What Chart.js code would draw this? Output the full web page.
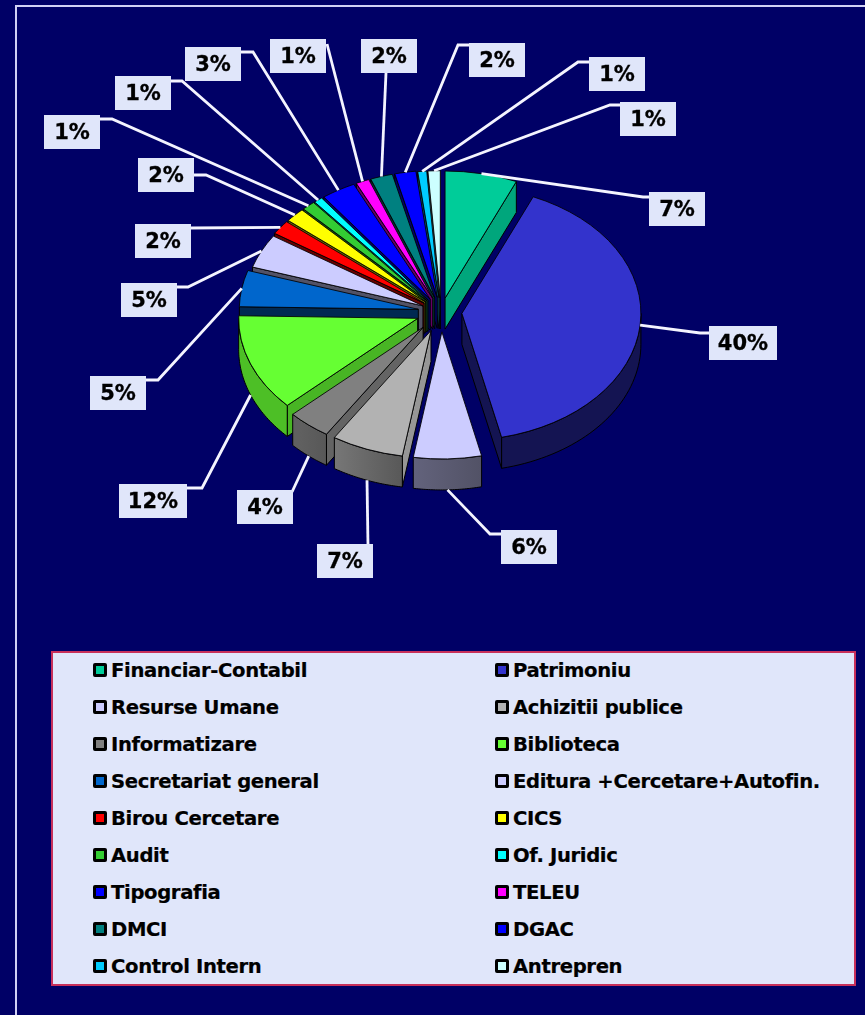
<!DOCTYPE html>
<html>
<head>
<meta charset="utf-8">
<title>Structura</title>
<script src="https://cdn.jsdelivr.net/npm/chart.js@4/dist/chart.umd.js"></script>
<style>
  html, body { margin: 0; padding: 0; background: #000066; overflow: hidden; }
  body { width: 865px; height: 1015px; position: relative; font-family: "DejaVu Sans", sans-serif; }
  #frame { position: absolute; left: 15px; top: 5px; width: 860px; height: 1020px;
    border-left: 2px solid #d0d0f4; border-top: 2px solid #d0d0f4; }
  #chartPie { position: absolute; left: 0; top: 0; }
  #legendBox { position: absolute; left: 51px; top: 651px; width: 801px; height: 331px;
    background: #e0e6fa; border: 2px solid #c8305a; box-sizing: content-box; }
  .legend-item { position: absolute; height: 37px; line-height: 37px; font-size: 19.6px; font-weight: bold;
    color: #000; white-space: nowrap; letter-spacing: -0.35px; -webkit-text-stroke: 0.2px #000; }
  .legend-swatch { position: absolute; left: 0; top: 11px; width: 8px; height: 8px;
    border: 3px solid #000; border-radius: 2px; }
  .legend-text { position: absolute; left: 18px; top: 0; }
</style>
</head>
<body>
<div id="frame"></div>
<canvas id="chartPie" width="865" height="1015"></canvas>
<div id="legendBox"></div>
<script>
const categories = [
  "Financiar-Contabil", "Patrimoniu", "Resurse Umane", "Achizitii publice",
  "Informatizare", "Biblioteca", "Secretariat general", "Editura +Cercetare+Autofin.",
  "Birou Cercetare", "CICS", "Audit", "Of. Juridic",
  "Tipografia", "TELEU", "DMCI", "DGAC", "Control Intern", "Antrepren",
];
const values = [6.5, 39.8, 6.1, 6.5, 3.9, 12.3, 4.6, 4.3, 1.8, 1.8, 1.2, 0.8, 3.1, 1.2, 2.0, 1.9, 0.8, 1.1];
const percentLabels = ["7%", "40%", "6%", "7%", "4%", "12%", "5%", "5%", "2%", "2%", "1%", "1%", "3%", "1%", "2%", "2%", "1%", "1%"];
const sliceColors = [
  "#00cc99", "#3333cc", "#ccccff", "#b2b2b2", "#808080", "#66ff33", "#0066cc", "#ccccff", "#ff0000",
  "#ffff00", "#33cc33", "#00ffff", "#0000ff", "#ff00ff", "#008080", "#0000ff", "#00ccff", "#ccffff",
];
// how far each slice is pulled out of the pie, px before the tilt
const explode = [20, 21, 28, 28, 28, 25, 23, 20, 21, 21, 21, 21, 21, 21, 21, 21, 20, 20];

// [x, y, width, height] of each percent box
const labelBoxes = [
  [649, 192, 56, 34], [709, 326, 68, 34], [501, 530, 56, 34], [317, 544, 56, 34], [237, 490, 56, 34],
  [119, 484, 68, 34], [90, 376, 56, 34], [121, 283, 56, 34], [135, 224, 56, 34], [138, 158, 56, 34],
  [44, 115, 56, 34], [115, 76, 56, 34], [185, 47, 56, 34], [270, 39, 56, 34], [361, 39, 56, 34],
  [469, 43, 56, 34], [589, 57, 56, 34], [620, 102, 56, 34],
];
// leader line points after the rim, up to the box
const leaderPoints = [
  [[643, 197], [652, 197]], [[700, 333], [712, 333]], [[490, 534], [504, 534]], [[368, 546]], [[292, 492]],
  [[202, 488], [187, 488]], [[158, 380], [146, 380]], [[188, 287], [177, 287]], [[191, 228]], [[206, 175], [194, 175]],
  [[112, 119], [100, 119]], [[182, 81], [171, 81]], [[253, 52], [241, 52]], [[327, 44]], [[386, 73]],
  [[458, 45], [469, 45]], [[578, 62], [589, 62]], [[610, 105], [620, 105]],
];

const pieRadius = 179;
const tilt = 0.71;
const pieDepth = 31;
const pieCenterY = 312;
const shadeLeft = 240;
const shadeRight = 642;

function shadeColor(hex, factor) {
  var r = parseInt(hex.substr(1, 2), 16);
  var g = parseInt(hex.substr(3, 2), 16);
  var b = parseInt(hex.substr(5, 2), 16);
  return "rgb(" + Math.round(r * factor) + "," + Math.round(g * factor) + "," + Math.round(b * factor) + ")";
}

function sliceInfo(chart, index) {
  const arc = chart.getDatasetMeta(0).data[index];
  const props = arc.getProps(["x", "y", "startAngle", "endAngle", "outerRadius"]);
  const mid = (props.startAngle + props.endAngle) / 2;
  return {
    tipX: props.x + Math.cos(mid) * explode[index],
    tipY: pieCenterY + Math.sin(mid) * explode[index] * tilt,
    radius: props.outerRadius,
    start: props.startAngle,
    end: props.endAngle,
    mid: mid,
  };
}

function rimPoint(info, angle) {
  return [info.tipX + Math.cos(angle) * info.radius, info.tipY + Math.sin(angle) * info.radius * tilt];
}

function drawCutFace(ctx, info, angle, color, outwardX) {
  const rim = rimPoint(info, angle);
  ctx.beginPath();
  ctx.moveTo(info.tipX, info.tipY);
  ctx.lineTo(rim[0], rim[1]);
  ctx.lineTo(rim[0], rim[1] + pieDepth);
  ctx.lineTo(info.tipX, info.tipY + pieDepth);
  ctx.closePath();
  ctx.fillStyle = shadeColor(color, 0.4 + 0.45 * Math.max(outwardX, 0));
  ctx.fill();
  ctx.stroke();
}

function drawOuterWall(ctx, info, color) {
  const from = Math.max(info.start, 0);
  const to = Math.min(info.end, Math.PI);
  if (from >= to) return;
  const gradient = ctx.createLinearGradient(shadeLeft, 0, shadeRight, 0);
  gradient.addColorStop(0, shadeColor(color, 0.75));
  gradient.addColorStop(0.15, shadeColor(color, 0.75));
  gradient.addColorStop(0.4, shadeColor(color, 0.5));
  gradient.addColorStop(0.6, shadeColor(color, 0.4));
  gradient.addColorStop(1, shadeColor(color, 0.4));
  ctx.beginPath();
  var i, p;
  for (i = 0; i <= 40; i++) {
    p = rimPoint(info, from + ((to - from) * i) / 40);
    if (i === 0) ctx.moveTo(p[0], p[1]);
    else ctx.lineTo(p[0], p[1]);
  }
  for (i = 40; i >= 0; i--) {
    p = rimPoint(info, from + ((to - from) * i) / 40);
    ctx.lineTo(p[0], p[1] + pieDepth);
  }
  ctx.closePath();
  ctx.fillStyle = gradient;
  ctx.fill();
  ctx.stroke();
}

const pie3d = {
  id: "pie3d",
  afterDatasetsUpdate: function (chart) {
    // the arc's own offset option also changes its radius, so pull each slice here instead
    chart.getDatasetMeta(0).data.forEach(function (arc, i) {
      const libraryDraw = arc.constructor.prototype.draw;
      arc.draw = function (ctx) {
        const mid = (arc.startAngle + arc.endAngle) / 2;
        ctx.save();
        ctx.translate(Math.cos(mid) * explode[i], Math.sin(mid) * explode[i]);
        libraryDraw.call(arc, ctx);
        ctx.restore();
      };
    });
  },
  beforeDatasetsDraw: function (chart) {
    const ctx = chart.ctx;
    const area = chart.chartArea;
    const order = categories.map(function (c, i) { return i; });
    order.sort(function (a, b) {
      return Math.sin(sliceInfo(chart, a).mid) - Math.sin(sliceInfo(chart, b).mid);
    });
    ctx.save();
    ctx.strokeStyle = "#000";
    ctx.lineWidth = 1;
    order.forEach(function (i) {
      const info = sliceInfo(chart, i);
      if (-Math.cos(info.start) > 0) drawCutFace(ctx, info, info.start, sliceColors[i], Math.sin(info.start));
      if (Math.cos(info.end) > 0) drawCutFace(ctx, info, info.end, sliceColors[i], -Math.sin(info.end));
      drawOuterWall(ctx, info, sliceColors[i]);
    });
    ctx.restore();
    // the library draws the top faces inside this squashed space
    const centerY = (area.top + area.bottom) / 2;
    ctx.save();
    ctx.translate(0, pieCenterY);
    ctx.scale(1, tilt);
    ctx.translate(0, -centerY);
  },
  afterDatasetsDraw: function (chart) {
    const ctx = chart.ctx;
    ctx.restore();
    ctx.save();
    categories.forEach(function (c, i) {
      const info = sliceInfo(chart, i);
      const start = rimPoint(info, info.mid);
      // front slices start their line under the wall, the others on the top rim
      if (Math.sin(info.mid) > 0.2) start[1] += pieDepth;
      ctx.beginPath();
      ctx.moveTo(start[0], start[1]);
      leaderPoints[i].forEach(function (p) { ctx.lineTo(p[0], p[1]); });
      ctx.strokeStyle = "#f4f4ff";
      ctx.lineWidth = 2.8;
      ctx.stroke();
    });
    ctx.font = "bold 21px 'DejaVu Sans'";
    ctx.textAlign = "center";
    ctx.textBaseline = "middle";
    percentLabels.forEach(function (text, i) {
      const box = labelBoxes[i];
      ctx.fillStyle = "#e0e6fa";
      ctx.fillRect(box[0], box[1], box[2], box[3]);
      ctx.fillStyle = "#000";
      ctx.strokeStyle = "#000";
      ctx.lineWidth = 0.3;
      ctx.fillText(text, box[0] + box[2] / 2, box[1] + box[3] / 2 + 2);
      ctx.strokeText(text, box[0] + box[2] / 2, box[1] + box[3] / 2 + 2);
    });
    ctx.restore();
  },
};

function generateLegend() {
  const box = document.getElementById("legendBox");
  categories.forEach(function (name, i) {
    const item = document.createElement("div");
    item.className = "legend-item";
    item.style.left = (i % 2 === 0 ? 40 : 442) + "px";
    item.style.top = -1 + 37 * Math.floor(i / 2) + "px";
    const swatch = document.createElement("span");
    swatch.className = "legend-swatch";
    swatch.style.background = sliceColors[i];
    const text = document.createElement("span");
    text.className = "legend-text";
    text.textContent = name;
    item.appendChild(swatch);
    item.appendChild(text);
    box.appendChild(item);
  });
}

const chartPie = new Chart(document.getElementById("chartPie").getContext("2d"), {
  type: "pie",
  data: {
    labels: categories,
    datasets: [
      {
        data: values,
        backgroundColor: sliceColors,
        borderColor: "#000",
        borderWidth: 1,
      },
    ],
  },
  options: {
    responsive: false,
    animation: false,
    events: [],
    radius: pieRadius,
    clip: false,
    layout: { padding: { left: 17 } },
    plugins: { legend: { display: false }, tooltip: { enabled: false } },
  },
  plugins: [pie3d],
});
generateLegend();
</script>
</body>
</html>
